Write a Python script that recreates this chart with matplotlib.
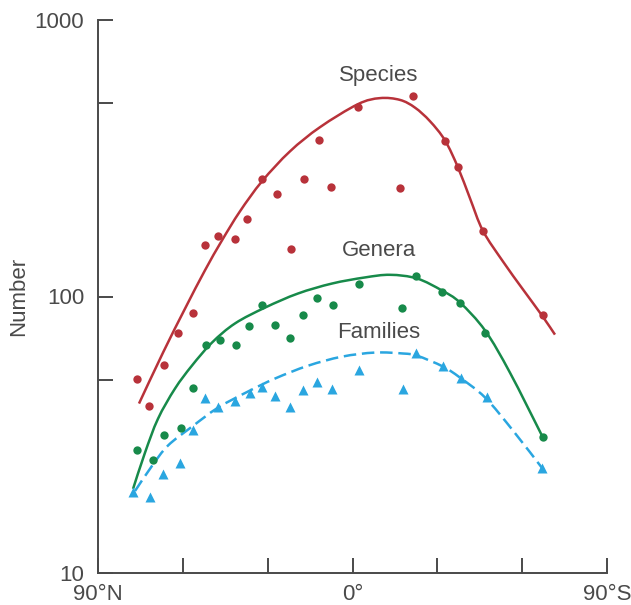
import matplotlib
matplotlib.use("Agg")
import numpy as np
import matplotlib.pyplot as plt
from matplotlib.ticker import FixedLocator, NullFormatter, FixedFormatter
from matplotlib.path import Path
from matplotlib.patches import PathPatch

plt.rcParams['font.family'] = ['Liberation Sans', 'DejaVu Sans']

# ---- data (latitude: negative = North, positive = South) ----
species_lat = [-76.2, -72.0, -66.7, -61.7, -56.4, -52.2, -47.6, -41.6, -37.3, -32.0, -26.7,
               -21.75, -17.15, -11.85, -7.6, 1.9, 16.8, 21.4, 32.7, 37.3, 46.1, 67.4]
species_val = [50.5, 40.3, 56.7, 73.5, 87.5, 154, 166, 161, 190, 265, 234,
               148, 265, 367, 248, 484, 246, 530, 364, 293, 173, 85.4]

genera_lat = [-76.2, -70.6, -66.7, -60.65, -56.4, -51.8, -46.9, -41.2, -36.6, -32.0, -27.4,
              -22.1, -17.5, -12.6, -6.9, 2.3, 17.5, 22.5, 31.6, 38.0, 46.9, 67.4]
genera_val = [27.9, 25.6, 31.6, 33.5, 46.8, 67.0, 69.9, 67.0, 78.5, 92.8, 79.2,
              71.0, 85.4, 98.4, 92.8, 111.4, 91.2, 119, 104.2, 95.1, 73.5, 31.1]

families_lat = [-77.6, -71.6, -67.0, -61.0, -56.4, -52.2, -47.6, -41.6, -36.25, -32.0, -27.4,
                -22.1, -17.5, -12.6, -7.25, 2.3, 17.9, 22.5, 32.0, 38.4, 47.6, 67.0]
families_val = [19.7, 18.9, 22.8, 25.0, 33.0, 43.1, 39.9, 42.0, 44.9, 47.2, 43.8,
                39.9, 46.0, 49.2, 46.4, 54.4, 46.4, 62.7, 56.2, 50.9, 43.4, 24.0]

# fitted trend curves
species_curve_lat = [-75.5, -67.0, -59.2, -52.2, -46.15, -39.8, -32.0, -22.1, -11.5, 1.9,
                     9.7, 16.8, 22.1, 27.4, 32.7, 37.3, 41.55, 46.1, 53.2, 60.3, 67.0, 71.6]
species_curve_val = [41.0, 62.7, 90.5, 124.2, 159.6, 203.2, 261, 335, 409.6, 496,
                     521.7, 514, 482, 430.5, 367, 293, 226.5, 173, 133.9, 106.0, 85.4, 72.8]

genera_curve_lat = [-77.6, -73.4, -68.8, -62.8, -56.8, -49.7, -41.55, -30.9, -19.3, -7.25,
                    4.4, 13.3, 22.8, 31.65, 38.0, 46.9, 55.7, 67.0]
genera_curve_val = [20.15, 27.2, 36.1, 46.4, 56.2, 68.1, 79.9, 91.2, 102.5, 111.4,
                    117.2, 119.8, 116.2, 105.1, 95.1, 75.3, 53.0, 31.4]

families_curve_lat = [-76.9, -70.9, -65.25, -56.8, -47.6, -37.0, -27.4, -15.7, -3.7, 8.0,
                      17.9, 22.8, 32.0, 38.0, 46.9, 56.8, 67.0]
families_curve_val = [19.8, 24.4, 28.9, 33.8, 39.6, 45.3, 50.5, 56.2, 60.6, 62.7,
                      62.2, 61.1, 55.8, 50.9, 43.1, 32.7, 24.0]

x_ticks = [-90, -60, -30, 0, 30, 60, 90]
x_labels = ['90\u00b0N', '', '', '0\u00b0', '', '', '90\u00b0S']
y_major = [10, 100, 1000]
y_major_labels = ['10', '100', '1000']
y_minor = [50, 500]

series_labels = ['Species', 'Genera', 'Families']
label_lat = [9.2, 9.2, 9.2]
label_val = [632, 147, 74]

RED = '#b8323a'
GREEN = '#178a4a'
BLUE = '#2aa6e0'
DARK = '#4a4a4a'


def smooth_path(lat, val):
    """Bezier path through the read points (Catmull-Rom handles, in log space)."""
    x = np.asarray(lat, float)
    y = np.log10(np.asarray(val, float))
    P = np.column_stack([x, y])
    Pp = np.vstack([P[0], P, P[-1]])
    verts = [P[0]]
    codes = [Path.MOVETO]
    for i in range(len(P) - 1):
        p0, p1, p2, p3 = Pp[i], Pp[i + 1], Pp[i + 2], Pp[i + 3]
        c1 = p1 + (p2 - p0) / 6.0
        c2 = p2 - (p3 - p1) / 6.0
        verts += [c1, c2, p2]
        codes += [Path.CURVE4] * 3
    verts = np.array(verts)
    verts[:, 1] = 10 ** verts[:, 1]
    return Path(verts, codes)


fig = plt.figure(figsize=(6.31, 6.05), dpi=100)
ax = fig.add_axes([98/631, 1 - 573/605, (607-98)/631, (573-20)/605])
ax.set_yscale('log')
ax.set_xlim(-90, 90)
ax.set_ylim(10, 1000)

for lat, val, col, ls in [(species_curve_lat, species_curve_val, RED, '-'),
                          (genera_curve_lat, genera_curve_val, GREEN, '-'),
                          (families_curve_lat, families_curve_val, BLUE, (0, (5, 2.3)))]:
    ax.add_patch(PathPatch(smooth_path(lat, val), fill=False, edgecolor=col,
                           lw=1.8, linestyle=ls, capstyle='butt'))

ax.plot(species_lat, species_val, 'o', color=RED, ms=6, mec='none')
ax.plot(genera_lat, genera_val, 'o', color=GREEN, ms=6, mec='none')
ax.plot(families_lat, families_val, '^', color=BLUE, ms=6.5, mec='none')

ax.yaxis.set_major_locator(FixedLocator(y_major))
ax.yaxis.set_major_formatter(FixedFormatter(y_major_labels))
ax.yaxis.set_minor_locator(FixedLocator(y_minor))
ax.yaxis.set_minor_formatter(NullFormatter())
ax.set_xticks(x_ticks)
ax.set_xticklabels(x_labels)

for s in ['top', 'right']:
    ax.spines[s].set_visible(False)
for s in ['left', 'bottom']:
    ax.spines[s].set_color(DARK)
    ax.spines[s].set_linewidth(1.4)

ax.tick_params(axis='both', which='both', direction='in', length=11, width=1.4,
               color=DARK, labelcolor=DARK, labelsize=16)
ax.tick_params(axis='y', which='both', pad=10)
ax.tick_params(axis='x', which='both', pad=8)

for txt, lx, ly in zip(series_labels, label_lat, label_val):
    ax.text(lx, ly, txt, ha='center', va='center', fontsize=16, color=DARK)

fig.text(19/631, 1 - 296/605, 'Number', rotation=90, ha='center', va='center',
         fontsize=16, color=DARK)

fig.savefig('out.png', dpi=100)
